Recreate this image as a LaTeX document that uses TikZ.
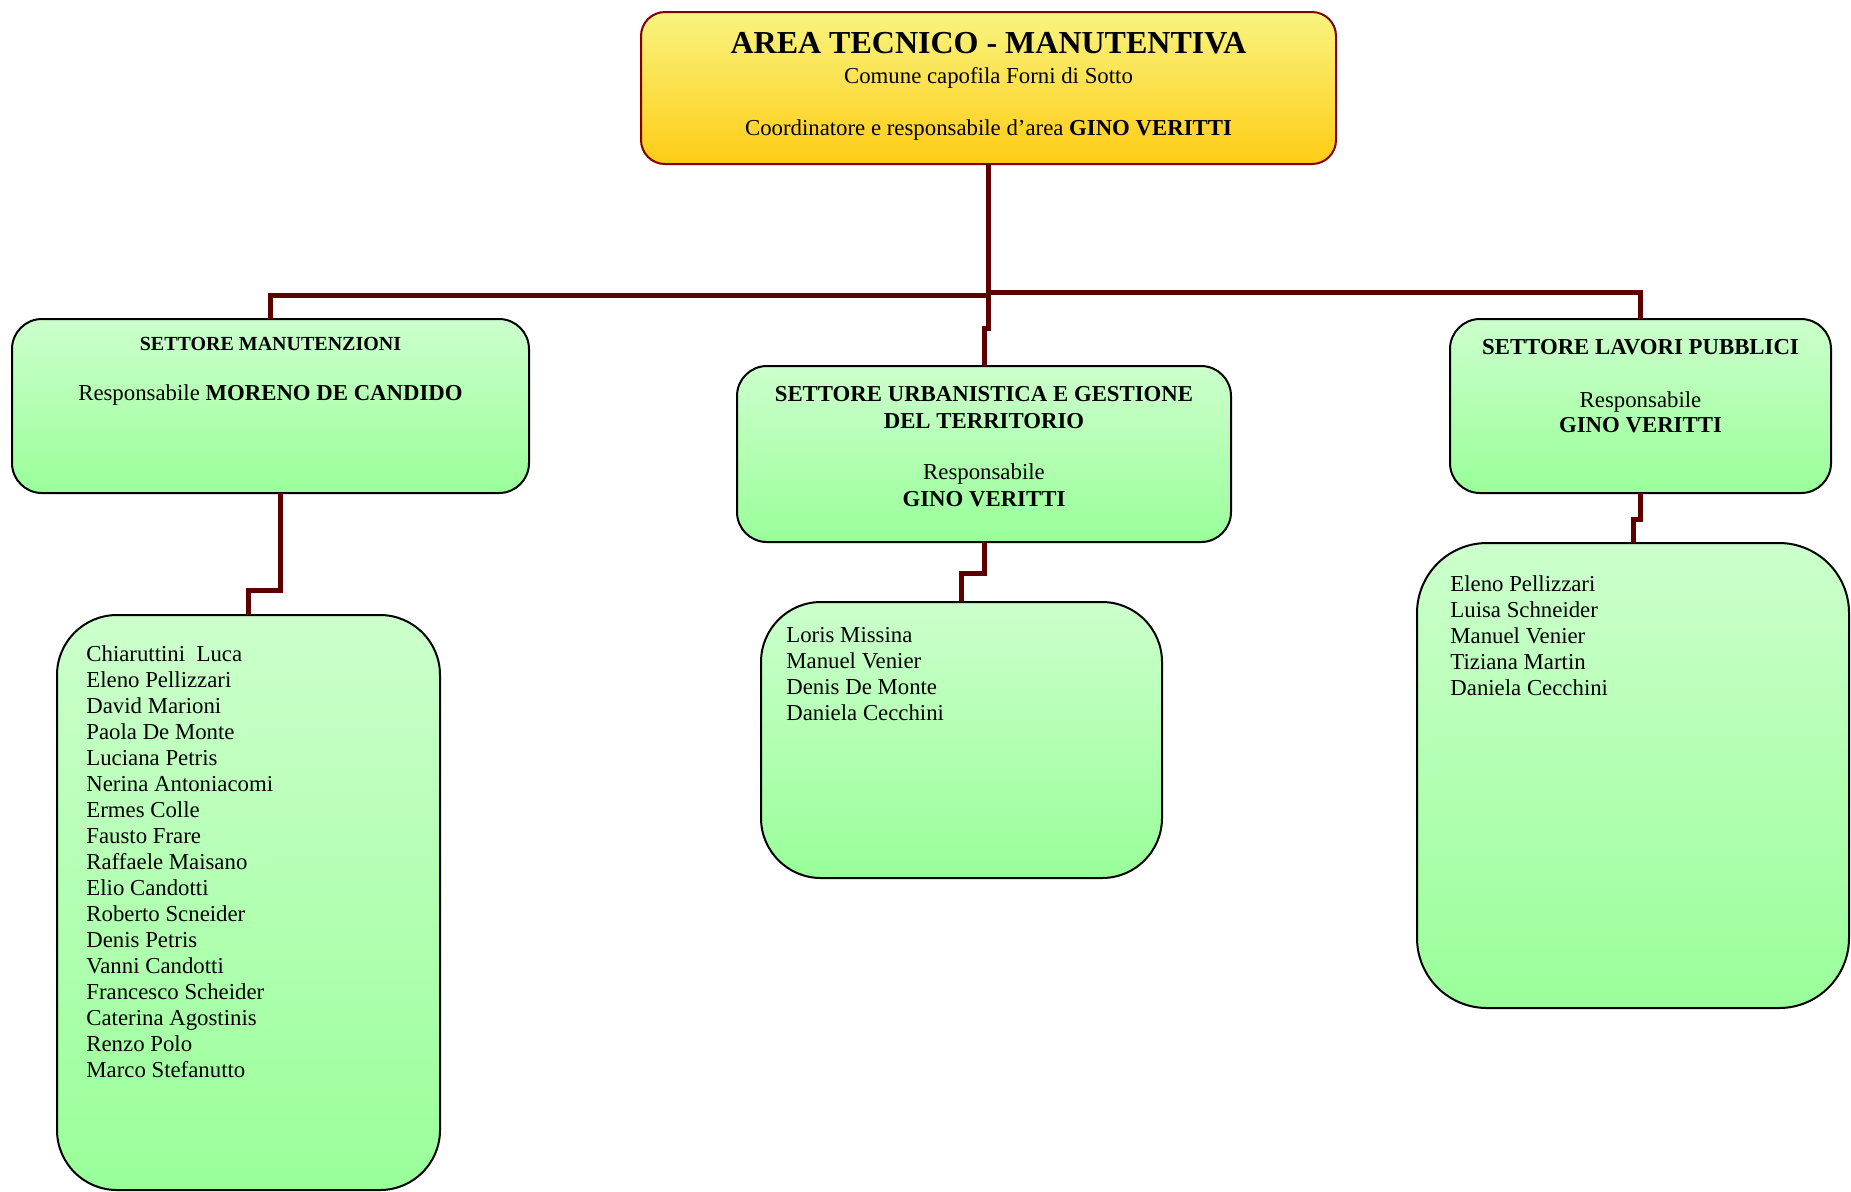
\documentclass[tikz,border=0pt]{standalone}
\usepackage{fontspec}
\setmainfont{Liberation Serif}
\usetikzlibrary{positioning}
\definecolor{giallochiaro}{RGB}{248,244,128}
\definecolor{giallo}{RGB}{255,204,20}
\definecolor{verdechiaro}{RGB}{204,255,204}
\definecolor{verde}{RGB}{153,255,153}
\definecolor{bordeaux}{RGB}{128,0,0}
\definecolor{marrone}{RGB}{92,0,0}

\begin{document}
\begin{tikzpicture}[x=0.5pt,y=-0.5pt,
    areabox/.style={draw=bordeaux,line width=1pt,rounded corners=12pt,top color=giallochiaro,bottom color=giallo,inner sep=0pt,outer sep=0pt},
    settbox/.style={draw=black,line width=1pt,rounded corners=15pt,top color=verdechiaro,bottom color=verde,inner sep=0pt,outer sep=0pt},
    listbox/.style={settbox,rounded corners=30pt},
    testo/.style={inner sep=0pt,font=\fontsize{11.4}{13.5}\selectfont},
    conn/.style={draw=marrone,line width=2.5pt}]
    \useasboundingbox (0,0) rectangle (1851,1191);

    \node (1) [areabox, minimum width=347.5pt, minimum height=76pt] at (988.5,88) {};
    \node (1t) [testo, below=9.8pt, at=(1.north), font=\fontsize{16}{16}\selectfont\bfseries] {AREA TECNICO - MANUTENTIVA};
    \node (1s) [testo, below=27.3pt, at=(1.north), align=center] {Comune capofila Forni di Sotto\\[12.5pt]Coordinatore e responsabile d’area \textbf{GINO VERITTI}};

    \node (2a) [settbox, minimum width=258.5pt, minimum height=87pt] at (270.5,406) {};
    \node (2at) [testo, below=8.8pt, at=(2a.north), font=\fontsize{10}{11}\selectfont\bfseries] {SETTORE MANUTENZIONI};
    \node (2ar) [testo, below=32.8pt, at=(2a.north)] {Responsabile \textbf{MORENO DE CANDIDO}};

    \node (2b) [settbox, minimum width=247pt, minimum height=88pt] at (984,454) {};
    \node (2bt) [testo, below=9.8pt, at=(2b.north), align=center] {\textbf{SETTORE URBANISTICA E GESTIONE}\\\textbf{DEL TERRITORIO}\\[12pt]Responsabile\\\textbf{GINO VERITTI}};

    \node (2c) [settbox, minimum width=190.5pt, minimum height=87pt] at (1640.5,406) {};
    \node (2ct) [testo, below=9.8pt, at=(2c.north), align=center, font=\fontsize{11.4}{12.5}\selectfont] {\textbf{SETTORE LAVORI PUBBLICI}\\[14pt]Responsabile\\\textbf{GINO VERITTI}};

    \node (3a) [listbox, minimum width=191.5pt, minimum height=287.5pt] at (248.5,902.5) {};
    \node (3at) [testo, below right=15.3pt and 14.5pt, at=(3a.north west), align=left, font=\fontsize{11.4}{13}\selectfont] {Chiaruttini~ Luca\\Eleno Pellizzari\\David Marioni\\Paola De Monte\\Luciana Petris\\Nerina Antoniacomi\\Ermes Colle\\Fausto Frare\\Raffaele Maisano\\Elio Candotti\\Roberto Scneider\\Denis Petris\\Vanni Candotti\\Francesco Scheider\\Caterina Agostinis\\Renzo Polo\\Marco Stefanutto};

    \node (3b) [listbox, minimum width=200.5pt, minimum height=138pt] at (961.5,740) {};
    \node (3bt) [testo, below right=12.3pt and 12.5pt, at=(3b.north west), align=left, font=\fontsize{11.4}{13}\selectfont] {Loris Missina\\Manuel Venier\\Denis De Monte\\Daniela Cecchini};

    \node (3c) [listbox, rounded corners=35pt, minimum width=216pt, minimum height=232.5pt] at (1633,775.5) {};
    \node (3ct) [testo, below right=16.3pt and 16.5pt, at=(3c.north west), align=left, font=\fontsize{11.4}{13}\selectfont] {Eleno Pellizzari\\Luisa Schneider\\Manuel Venier\\Tiziana Martin\\Daniela Cecchini};

    \coordinate (barl) at (0,295);
    \coordinate (barr) at (0,292);
    \path[conn]
    (1.south) -- (1.south |- barl) -| (2a.north)
    (1.south) -- (1.south |- barr) -| (2c.north)
    (1.south) -- ++(0,164) -| (2b.north)
    ([xshift=5pt]2a.south) -- ++(0,97) -| (3a.north)
    (2b.south) -- ++(0,31) -| (3b.north)
    (2c.south) -- ++(0,26) -| (3c.north)
    ;
\end{tikzpicture}
\end{document}
